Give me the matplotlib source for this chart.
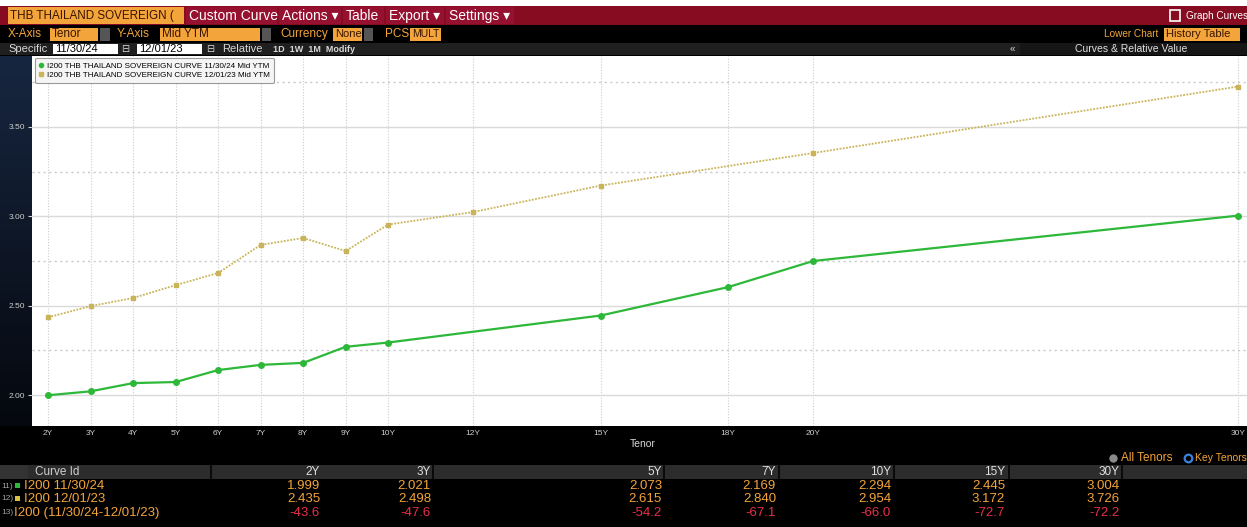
import numpy as np
import matplotlib
matplotlib.use('Agg')
import matplotlib.pyplot as plt
from matplotlib.patches import Rectangle
from matplotlib.lines import Line2D
from matplotlib.colors import LinearSegmentedColormap

plt.rcParams['font.family'] = ['Liberation Sans', 'DejaVu Sans']

# curve data
tenors_now = [2, 3, 4, 5, 6, 7, 8, 9, 10, 15, 18, 20, 30]
yield_now = [1.999, 2.021, 2.067, 2.073, 2.140, 2.169, 2.180, 2.270, 2.294, 2.445, 2.604, 2.750, 3.004]
tenors_prev = [2, 3, 4, 5, 6, 7, 8, 9, 10, 12, 15, 20, 30]
yield_prev = [2.435, 2.498, 2.543, 2.615, 2.683, 2.840, 2.879, 2.806, 2.954, 3.024, 3.172, 3.354, 3.726]
tick_tenors = [2, 3, 4, 5, 6, 7, 8, 9, 10, 12, 15, 18, 20, 30]
tick_labels = [f'{t}Y' for t in tick_tenors]
label_now = 'I200 THB THAILAND SOVEREIGN CURVE 11/30/24 Mid YTM'
label_prev = 'I200 THB THAILAND SOVEREIGN CURVE 12/01/23 Mid YTM'

# table under the chart
table_cols = ['2Y', '3Y', '5Y', '7Y', '10Y', '15Y', '30Y']
row_now = [1.999, 2.021, 2.073, 2.169, 2.294, 2.445, 3.004]
row_prev = [2.435, 2.498, 2.615, 2.840, 2.954, 3.172, 3.726]
row_diff = [-43.6, -47.6, -54.2, -67.1, -66.0, -72.7, -72.2]

GREEN = '#2eb83a'
GOLD = '#c9b45a'
ORANGE = '#f3a43a'
RED = '#e8304a'
MAROON = '#870c22'

W, H = 1247, 527
fig = plt.figure(figsize=(W / 100, H / 100), dpi=100, facecolor='black')


def box(x0, y0, x1, y1, color, ec='none', lw=0):
    fig.add_artist(Rectangle((x0 / W, 1 - y1 / H), (x1 - x0) / W, (y1 - y0) / H,
                             transform=fig.transFigure, facecolor=color,
                             edgecolor=ec, linewidth=lw))


def text(x, y, s, **kw):
    kw.setdefault('va', 'center')
    return fig.text(x / W, 1 - y / H, s, **kw)


def dot(x, y, **kw):
    fig.add_artist(Line2D([x / W], [1 - y / H], transform=fig.transFigure, ls='none', **kw))


# ---- header bars ----
box(0, 0, W, 6, 'white')
box(0, 6, W, 25, MAROON)
box(8, 7, 184, 24, ORANGE)
text(10, 16, 'THB THAILAND SOVEREIGN (', color='#3a1500', fontsize=8.4)
menus = [('Custom Curve', 186, 277), ('Actions \u25be', 279, 341), ('Table', 343, 384),
         ('Export \u25be', 386, 444), ('Settings \u25be', 446, 514)]
for name, a, b in menus:
    box(a, 7, b, 24, '#961030')
    text(a + 3, 16, name, color='white', fontsize=10)
box(1170, 10, 1180, 21, 'none', ec='white', lw=1.2)
text(1186, 16, 'Graph Curves', color='white', fontsize=7.2)

# second row
text(8, 34, 'X-Axis', color=ORANGE, fontsize=8.5)
box(50, 28, 98, 41, ORANGE)
text(52, 34, 'Tenor', color='#3a1500', fontsize=8.5)
box(100, 28, 110, 41, '#555555')
text(117, 34, 'Y-Axis', color=ORANGE, fontsize=8.5)
box(160, 28, 260, 41, ORANGE)
text(162, 34, 'Mid YTM', color='#3a1500', fontsize=8.5)
box(262, 28, 271, 41, '#555555')
text(280, 34, 'Currency', color=ORANGE, fontsize=8.5)
box(333, 28, 362, 41, ORANGE)
text(335, 34, 'None', color='#3a1500', fontsize=8)
box(364, 28, 373, 41, '#555555')
text(385, 34, 'PCS', color=ORANGE, fontsize=8.5)
box(410, 28, 441, 41, ORANGE)
text(412, 34, 'MULT', color='#3a1500', fontsize=7.5)
text(1104, 34, 'Lower Chart', color=ORANGE, fontsize=7.2)
box(1164, 28, 1240, 41, ORANGE)
text(1166, 34, 'History Table', color='#3a1500', fontsize=8)

# third row
box(0, 43, W, 55, '#1f1f1f')
text(8, 49, 'Specific', color='#d8d8d8', fontsize=8)
box(53, 44, 118, 54, 'white')
text(55, 49, '11/30/24', color='black', fontsize=8)
text(121, 49, '\u229f', color='#d8d8d8', fontsize=7)
box(137, 44, 202, 54, 'white')
text(139, 49, '12/01/23', color='black', fontsize=8)
text(206, 49, '\u229f', color='#d8d8d8', fontsize=7)
text(222, 49, 'Relative', color='#d8d8d8', fontsize=8)
text(273, 49, '1D  1W  1M  Modify', color='#d8d8d8', fontsize=6.5, weight='bold')
box(1020, 43, W, 55, '#161616')
text(1010, 49, '\u00ab', color='#d8d8d8', fontsize=7)
text(1131, 49, 'Curves & Relative Value', color='#e0e0e0', fontsize=7.5, ha='center')

# ---- left strip gradient ----
gx = fig.add_axes([0, 1 - 426 / H, 32 / W, 370 / H])
grad = np.linspace(0, 1, 200).reshape(-1, 1)
gx.imshow(grad, cmap=LinearSegmentedColormap.from_list('strip', ['#172640', '#05080e']),
          aspect='auto')
gx.axis('off')

# ---- main plot ----
ax = fig.add_axes([32 / W, 1 - 426 / H, (W - 32) / W, 370 / H])
ax.set_facecolor('white')
for s in ax.spines.values():
    s.set_visible(False)

ax.plot(tenors_now, yield_now, color=GREEN, lw=1.6, marker='o', ms=4, zorder=3)
ax.plot(tenors_prev, yield_prev, color=GOLD, lw=1.3, ls=(0, (1, 0.8)), marker='s', ms=2.5,
        zorder=3)

ax.set_xlim(1.62, 30.21)
ax.set_ylim(1.827, 3.897)
ax.set_xticks(tick_tenors)
ax.set_xticklabels(tick_labels)
ax.set_yticks([2.0, 2.5, 3.0, 3.5])
ax.set_yticklabels(['2.00', '2.50', '3.00', '3.50'])
ax.set_yticks([2.25, 2.75, 3.25, 3.75], minor=True)
ax.tick_params(axis='x', colors='#cfcfcf', labelsize=6, length=0, pad=3)
ax.tick_params(axis='y', which='major', colors='#cfcfcf', labelsize=6, length=3, pad=2)
ax.tick_params(axis='y', which='minor', length=0)
ax.grid(axis='y', which='major', color='#dadada', lw=1, ls='-')
ax.grid(axis='y', which='minor', color='#c8c8c8', lw=1, ls=(0, (1.5, 2.5)))
ax.grid(axis='x', which='major', color='#cccccc', lw=0.8, ls=(0, (1, 1.5)))
ax.set_axisbelow(True)

handles = [Line2D([], [], color=GREEN, marker='o', ls='none', ms=3),
           Line2D([], [], color=GOLD, marker='s', ls='none', ms=2.5)]
leg = ax.legend(handles, [label_now, label_prev], loc='upper left',
                bbox_to_anchor=(0.0025, 0.995), borderaxespad=0, fontsize=5.8,
                handlelength=0.6, handletextpad=0.4, labelspacing=0.25,
                borderpad=0.5, fancybox=True, framealpha=1, facecolor='#f5f5f5',
                edgecolor='#9a9a9a')
leg.get_frame().set_linewidth(0.8)

text(643, 444, 'Tenor', color='#d8d8d8', fontsize=7.5, ha='center')

# ---- tenor selector ----
dot(1113, 458, marker='o', ms=6, mfc='#8a8a8a', mec='none')
text(1121, 458, 'All Tenors', color=ORANGE, fontsize=8.5)
dot(1188, 458, marker='o', ms=5.5, mfc='none', mec='#3b82e0', mew=1.6)
text(1195, 458, 'Key Tenors', color=ORANGE, fontsize=7.5)

# ---- table ----
box(0, 465, W, 479, '#2c2c2c')
box(0, 465, 28, 479, '#333333')
for xs in [210, 432, 663, 778, 893, 1008, 1121]:
    box(xs, 465, xs + 1.5, 479, '#0a0a0a')
text(35, 472, 'Curve Id', color='#d0d0d0', fontsize=8.5)
col_right = [320, 431, 662, 776, 891, 1005, 1120]
for c, xr in zip(table_cols, col_right):
    text(xr, 472, c, color='#e0e0e0', fontsize=8.5, ha='right')

row_y = [486, 499, 513]
text(1, row_y[0], '11)', color='#a0a0a0', fontsize=6)
box(15, row_y[0] - 3, 20, row_y[0] + 2, GREEN)
text(24, row_y[0], 'I200 11/30/24', color=ORANGE, fontsize=9.5)
text(1, row_y[1], '12)', color='#a0a0a0', fontsize=6)
box(15, row_y[1] - 3, 20, row_y[1] + 2, '#d8c040')
text(24, row_y[1], 'I200 12/01/23', color=ORANGE, fontsize=9.5)
text(1, row_y[2], '13)', color='#a0a0a0', fontsize=6)
text(14, row_y[2], 'I200 (11/30/24-12/01/23)', color=ORANGE, fontsize=9.5)

for xr, a, b, d in zip(col_right, row_now, row_prev, row_diff):
    text(xr, row_y[0], f'{a:.3f}', color=ORANGE, fontsize=9.5, ha='right')
    text(xr, row_y[1], f'{b:.3f}', color=ORANGE, fontsize=9.5, ha='right')
    text(xr, row_y[2], f'{d:.1f}', color=RED, fontsize=9.5, ha='right')

fig.savefig('out.png', dpi=100, facecolor='black')
